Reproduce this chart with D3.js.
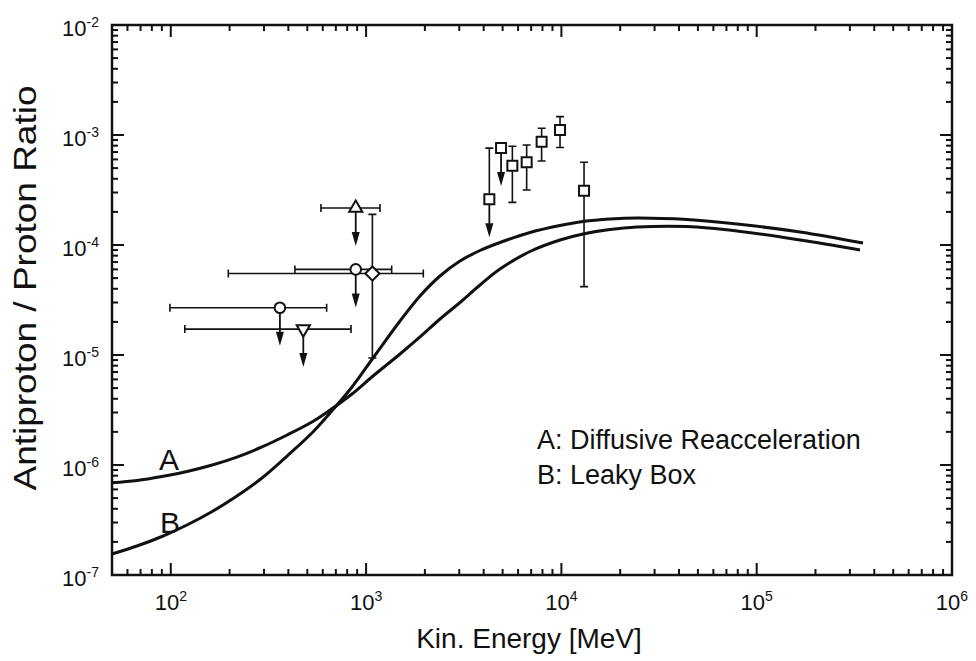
<!DOCTYPE html>
<html>
  <head>
    <meta charset="UTF-8" />
    <title>Antiproton / Proton Ratio</title>
    <style>
      body { margin: 0; background: #fff; }
      svg { display: block; font-family: "Liberation Sans", Arial, sans-serif; }
    </style>
  </head>
  <body>
    <svg width="976" height="661"></svg>

    <script src="https://d3js.org/d3.v7.min.js"></script>
    <script>
      // model curves: kinetic energy [MeV] and pbar/p ratio
      const curveAEnergy = [50, 67.1, 90.1, 121, 163, 218, 293, 394, 528, 654, 847, 1085, 1492, 1888, 2390, 3025, 3830, 4848, 6906, 9835, 12900, 17740, 24390, 43970, 79270, 166600, 338000];
      const curveARatio = [6.9e-7, 7.23e-7, 7.86e-7, 8.73e-7, 1.0e-6, 1.18e-6, 1.458e-6, 1.874e-6, 2.46e-6, 3.16e-6, 4.42e-6, 6.44e-6, 1.021e-5, 1.458e-5, 2.125e-5, 3.0e-5, 4.33e-5, 6.05e-5, 8.73e-5, 1.11e-4, 1.259e-4, 1.383e-4, 1.458e-4, 1.473e-4, 1.341e-4, 1.11e-4, 9.01e-5];
      const curveBEnergy = [50, 67.1, 90.1, 121, 163, 218, 293, 394, 528, 654, 847, 1085, 1492, 1888, 2390, 3025, 3830, 4848, 6906, 9835, 12900, 17740, 24390, 43970, 79270, 166600, 350200];
      const curveBRatio = [1.552e-7, 1.835e-7, 2.239e-7, 2.848e-7, 3.779e-7, 5.226e-7, 7.617e-7, 1.207e-6, 1.953e-6, 2.97e-6, 5.119e-6, 9.39e-6, 2.037e-5, 3.439e-5, 5.226e-5, 7.154e-5, 8.913e-5, 1.054e-4, 1.299e-4, 1.504e-4, 1.635e-4, 1.723e-4, 1.76e-4, 1.705e-4, 1.552e-4, 1.313e-4, 1.042e-4];

      // measurements
      const obsMarker = ["triangle-up", "circle", "diamond", "circle", "triangle-down", "square", "square", "square", "square", "square", "square", "square"];
      const obsEnergy = [885, 885, 1077, 362, 477, 4276, 4910, 5610, 6640, 7920, 9840, 13060];
      const obsEnergyLow = [587, 432, 197, 99, 118, null, null, null, null, null, null, null];
      const obsEnergyHigh = [1178, 1352, 1963, 628, 837, null, null, null, null, null, null, null];
      const obsRatio = [2.17e-4, 6.0e-5, 5.5e-5, 2.69e-5, 1.72e-5, 2.6e-4, 7.6e-4, 5.26e-4, 5.65e-4, 8.7e-4, 1.11e-3, 3.12e-4];
      const obsRatioLow = [null, null, 9.4e-6, null, null, null, null, 2.44e-4, 3.16e-4, 5.8e-4, 7.7e-4, 4.18e-5];
      const obsRatioHigh = [null, null, 1.9e-4, null, null, 7.6e-4, null, 7.9e-4, 8.1e-4, 1.15e-3, 1.47e-3, 5.65e-4];
      const obsUpperLimit = [true, true, false, true, true, true, true, false, false, false, false, false];

      const legendLabels = ["A: Diffusive Reacceleration", "B: Leaky Box"];
      const curveLabels = ["A", "B"];

      const LEFT = 112, RIGHT = 952, TOP = 25, BOTTOM = 575;
      const INK = "#111";

      const x = d3.scaleLog().domain([50, 1e6]).range([LEFT, RIGHT]);
      const y = d3.scaleLog().domain([1e-7, 1e-2]).range([BOTTOM, TOP]);

      const svg = d3.select("svg");
      svg.append("rect").attr("width", 976).attr("height", 661).attr("fill", "#fff");

      const isMajor = (t) => Math.abs(Math.log10(t) - Math.round(Math.log10(t))) < 1e-9;
      const MAJOR = 12, MINOR = 6;

      // ticks on all four sides, pointing inwards
      const ticks = svg.append("g").attr("stroke", INK).attr("stroke-width", 2);
      x.ticks().forEach((t) => {
        const len = isMajor(t) ? MAJOR : MINOR;
        ticks.append("line").attr("x1", x(t)).attr("x2", x(t)).attr("y1", BOTTOM).attr("y2", BOTTOM - len);
        ticks.append("line").attr("x1", x(t)).attr("x2", x(t)).attr("y1", TOP).attr("y2", TOP + len);
      });
      y.ticks().forEach((t) => {
        const len = isMajor(t) ? MAJOR : MINOR;
        ticks.append("line").attr("y1", y(t)).attr("y2", y(t)).attr("x1", LEFT).attr("x2", LEFT + len);
        ticks.append("line").attr("y1", y(t)).attr("y2", y(t)).attr("x1", RIGHT).attr("x2", RIGHT - len);
      });

      // frame
      svg.append("rect")
        .attr("x", LEFT).attr("y", TOP)
        .attr("width", RIGHT - LEFT).attr("height", BOTTOM - TOP)
        .attr("fill", "none").attr("stroke", INK).attr("stroke-width", 2.5);

      // tick labels 10^n
      function powerLabel(sel) {
        sel.append("tspan").text("10");
        sel.append("tspan")
          .attr("font-size", 14).attr("dy", -9)
          .text((d) => Math.round(Math.log10(d)));
      }
      svg.append("g").selectAll("text")
        .data(x.ticks().filter(isMajor).filter((t) => t >= 100))
        .join("text")
        .attr("x", (d) => x(d)).attr("y", 610)
        .attr("text-anchor", "middle").attr("font-size", 22).attr("fill", INK)
        .call(powerLabel);
      svg.append("g").selectAll("text")
        .data(y.ticks().filter(isMajor))
        .join("text")
        .attr("x", 99).attr("y", (d) => y(d) + 10.5)
        .attr("text-anchor", "end").attr("font-size", 22).attr("fill", INK)
        .call(powerLabel);

      // axis titles
      svg.append("text")
        .attr("x", 529).attr("y", 648)
        .attr("text-anchor", "middle").attr("font-size", 28).attr("fill", INK)
        .text("Kin. Energy [MeV]");
      svg.append("text")
        .attr("transform", "translate(36,288) rotate(-90)")
        .attr("text-anchor", "middle").attr("font-size", 32).attr("fill", INK)
        .attr("textLength", 405).attr("lengthAdjust", "spacingAndGlyphs")
        .text("Antiproton / Proton Ratio");

      const obs = obsEnergy.map((e, i) => ({
        e, r: obsRatio[i],
        eLo: obsEnergyLow[i], eHi: obsEnergyHigh[i],
        rLo: obsRatioLow[i], rHi: obsRatioHigh[i],
        limit: obsUpperLimit[i], marker: obsMarker[i]
      }));

      // error bars
      const CAP = 4;
      const bars = svg.append("g").attr("stroke", INK).attr("stroke-width", 1.6).attr("fill", "none");
      obs.forEach((d) => {
        const cx = x(d.e), cy = y(d.r);
        if (d.eLo !== null) {
          const x0 = x(d.eLo), x1 = x(d.eHi);
          bars.append("path").attr("d", `M${x0},${cy}H${x1}M${x0},${cy - CAP}V${cy + CAP}M${x1},${cy - CAP}V${cy + CAP}`);
        }
        if (d.rLo !== null || d.rHi !== null) {
          const y0 = d.rLo !== null ? y(d.rLo) : cy;
          const y1 = d.rHi !== null ? y(d.rHi) : cy;
          let p = `M${cx},${y0}V${y1}`;
          if (d.rLo !== null) p += `M${cx - CAP},${y0}H${cx + CAP}`;
          if (d.rHi !== null) p += `M${cx - CAP},${y1}H${cx + CAP}`;
          bars.append("path").attr("d", p);
        }
      });

      // model curves
      const line = d3.line()
        .x((d) => x(d[0]))
        .y((d) => y(d[1]))
        .curve(d3.curveCatmullRom.alpha(0.5));
      [d3.zip(curveAEnergy, curveARatio), d3.zip(curveBEnergy, curveBRatio)].forEach((pts) => {
        svg.append("path")
          .attr("d", line(pts))
          .attr("fill", "none").attr("stroke", INK).attr("stroke-width", 3);
      });

      // upper limit arrows
      const ARROW = 38;
      const arrows = svg.append("g");
      obs.filter((d) => d.limit).forEach((d) => {
        const cx = x(d.e), tip = y(d.r) + ARROW;
        arrows.append("line")
          .attr("x1", cx).attr("x2", cx).attr("y1", y(d.r)).attr("y2", tip - 10)
          .attr("stroke", INK).attr("stroke-width", 1.8);
        arrows.append("path")
          .attr("d", `M${cx - 4},${tip - 14}L${cx + 4},${tip - 14}L${cx},${tip}Z`)
          .attr("fill", INK);
      });

      // markers
      const symbolOf = {
        "circle": { type: d3.symbolCircle, size: 88, rot: 0 },
        "square": { type: d3.symbolSquare, size: 100, rot: 0 },
        "diamond": { type: d3.symbolSquare, size: 100, rot: 45 },
        "triangle-up": { type: d3.symbolTriangle, size: 75, rot: 0 },
        "triangle-down": { type: d3.symbolTriangle, size: 75, rot: 180 }
      };
      svg.append("g").selectAll("path")
        .data(obs)
        .join("path")
        .attr("d", (d) => d3.symbol().type(symbolOf[d.marker].type).size(symbolOf[d.marker].size)())
        .attr("transform", (d) => `translate(${x(d.e)},${y(d.r)}) rotate(${symbolOf[d.marker].rot})`)
        .attr("fill", "#fff").attr("stroke", INK).attr("stroke-width", 2);

      // curve labels
      svg.append("g").selectAll("text")
        .data(curveLabels)
        .join("text")
        .attr("x", (d, i) => [159, 160][i]).attr("y", (d, i) => [470, 533][i])
        .attr("font-size", 30).attr("fill", INK)
        .text((d) => d);

      // legend
      svg.append("g").selectAll("text")
        .data(legendLabels)
        .join("text")
        .attr("x", 537).attr("y", (d, i) => 449 + i * 35)
        .attr("font-size", 27).attr("fill", INK)
        .text((d) => d);
    </script>
  </body>
</html>
